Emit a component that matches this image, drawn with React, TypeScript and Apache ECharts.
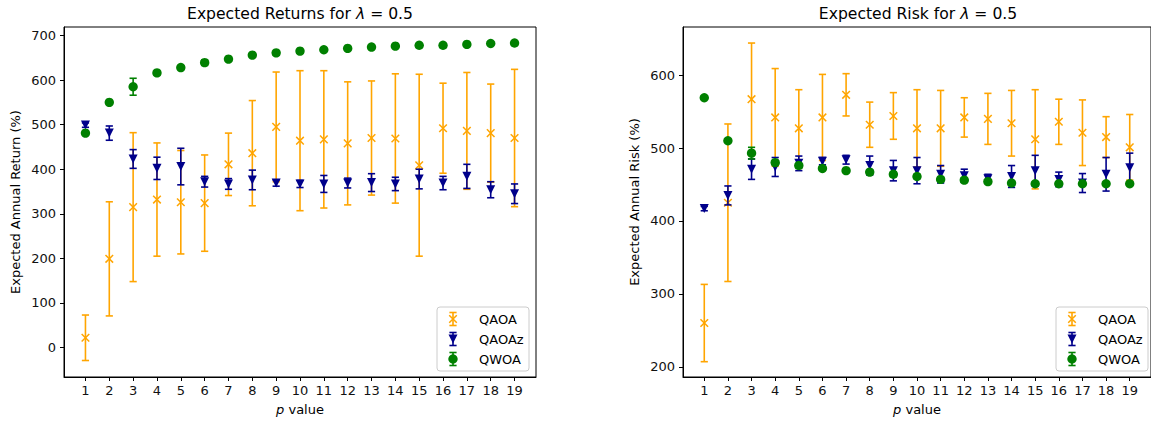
import React, { useEffect, useRef } from "react";
import * as echarts from "echarts";

const pValues = [1, 2, 3, 4, 5, 6, 7, 8, 9, 10, 11, 12, 13, 14, 15, 16, 17, 18, 19];
const seriesNames = ["QAOA", "QAOAz", "QWOA"];

// Expected returns (mean, error)
const returnQAOA = [22, 199, 315, 332, 326, 324, 411, 436, 495, 464, 467, 458, 470, 469, 409, 492, 486, 481, 470];
const returnQAOAErr = [51, 128, 167, 127, 116, 108, 70, 118, 123, 157, 154, 138, 128, 145, 204, 101, 131, 110, 154];
const returnQAOAz = [499, 481, 423, 402, 406, 372, 367, 376, 369, 367, 367, 369, 370, 367, 378, 369, 384, 354, 345];
const returnQAOAzErr = [5, 16, 21, 25, 41, 12, 12, 22, 7, 8, 19, 11, 20, 15, 22, 15, 27, 18, 22];
const returnQWOA = [481, 550, 585, 616, 628, 639, 647, 656, 661, 665, 668, 671, 674, 676, 678, 678, 680, 682, 683];
const returnQWOAErr = [2, 2, 19, 3, 3, 6, 3, 3, 2, 2, 2, 2, 2, 2, 2, 2, 2, 2, 2];

// Expected risk (mean, error)
const riskQAOA = [260, 425, 567, 542, 527, 542, 573, 532, 544, 527, 527, 542, 540, 534, 512, 536, 521, 515, 501];
const riskQAOAErr = [53, 108, 77, 67, 53, 59, 29, 31, 32, 53, 52, 27, 35, 45, 68, 31, 45, 28, 45];
const riskQAOAz = [417, 435, 471, 474, 479, 482, 484, 476, 469, 469, 464, 462, 458, 461, 469, 457, 452, 464, 473];
const riskQAOAzErr = [3, 13, 14, 13, 10, 5, 6, 13, 14, 18, 12, 9, 6, 15, 21, 10, 13, 23, 20];
const riskQWOA = [569, 510, 493, 480, 476, 472, 469, 467, 464, 461, 457, 456, 454, 452, 451, 451, 451, 451, 451];
const riskQWOAErr = [2, 2, 8, 3, 3, 2, 2, 3, 3, 3, 3, 3, 2, 2, 2, 2, 2, 2, 2];

const returnTicks = [0, 100, 200, 300, 400, 500, 600, 700];
const riskTicks = [200, 300, 400, 500, 600];

const FONT = "DejaVu Sans";
const FS = 13;
const TITLE_FS = 15.6;
const COLORS = ["#ffa500", "#00008b", "#008000"];
const KINDS = ["x", "v", "o"];

function markerShape(kind: string, cx: number, cy: number, color: string): any {
  if (kind === "x") {
    const r = 3.8;
    const st = { stroke: color, lineWidth: 1.5 };
    return {
      type: "group",
      children: [
        { type: "line", shape: { x1: cx - r, y1: cy - r, x2: cx + r, y2: cy + r }, style: st },
        { type: "line", shape: { x1: cx - r, y1: cy + r, x2: cx + r, y2: cy - r }, style: st },
      ],
    };
  }
  if (kind === "v") {
    const r = 4.5;
    return {
      type: "polygon",
      shape: { points: [[cx - r, cy - r], [cx + r, cy - r], [cx, cy + r]] },
      style: { fill: color },
    };
  }
  return { type: "circle", shape: { cx, cy, r: 4.7 }, style: { fill: color } };
}

function errorBar(cx: number, yTop: number, yBot: number, color: string): any[] {
  const cap = 3.6;
  const ls = { stroke: color, lineWidth: 1.6 };
  return [
    { type: "line", shape: { x1: cx, y1: yTop, x2: cx, y2: yBot }, style: ls },
    { type: "line", shape: { x1: cx - cap, y1: yTop, x2: cx + cap, y2: yTop }, style: ls },
    { type: "line", shape: { x1: cx - cap, y1: yBot, x2: cx + cap, y2: yBot }, style: ls },
  ];
}

function makeRender(kind: string, color: string) {
  return (params: any, api: any) => {
    const x = api.value(0);
    const y = api.value(1);
    const e = api.value(2);
    const c = api.coord([x, y]);
    const t = api.coord([x, y + e]);
    const b = api.coord([x, y - e]);
    return {
      type: "group",
      children: [...errorBar(c[0], t[1], b[1], color), markerShape(kind, c[0], c[1], color)],
    };
  };
}

function buildData(means: number[], errs: number[]) {
  return pValues.map((p, i) => [p, means[i], errs[i]]);
}

function legendGroup(left: number, top: number): any {
  const children: any[] = [
    {
      type: "rect",
      shape: { x: 0, y: 0, width: 92, height: 64, r: 3 },
      style: { fill: "rgba(255,255,255,0.8)", stroke: "#cccccc", lineWidth: 1 },
    },
  ];
  seriesNames.forEach((name, i) => {
    const cy = 12 + 20 * i;
    children.push(...errorBar(16, cy - 6.5, cy + 6.5, COLORS[i]));
    children.push(markerShape(KINDS[i], 16, cy, COLORS[i]));
    children.push({
      type: "text",
      x: 42,
      y: cy,
      style: {
        text: name,
        fill: "#000",
        fontSize: FS,
        fontFamily: FONT,
        verticalAlign: "middle",
        align: "left",
      },
    });
  });
  return { type: "group", x: left, y: top, z: 100, children };
}

function titleText(x: number, text: string): any {
  return {
    type: "text",
    x,
    y: 14,
    z: 100,
    style: {
      text,
      fill: "#000",
      fontSize: TITLE_FS,
      fontFamily: FONT,
      align: "center",
      verticalAlign: "middle",
      rich: { i: { fontStyle: "italic", fontSize: TITLE_FS, fontFamily: FONT, fill: "#000" } },
    },
  };
}

function xAxisCfg(gridIndex: number): any {
  return {
    type: "value",
    gridIndex,
    min: 0.1,
    max: 19.9,
    name: "{i|p} value",
    nameLocation: "middle",
    nameGap: 26,
    nameTextStyle: {
      fontSize: FS,
      fontFamily: FONT,
      color: "#000",
      rich: { i: { fontStyle: "italic", fontSize: FS, fontFamily: FONT, color: "#000" } },
    },
    axisLine: { show: true, onZero: false, lineStyle: { color: "#000", width: 1 } },
    axisTick: { show: true, length: 4, customValues: pValues, lineStyle: { color: "#000", width: 1 } },
    axisLabel: { customValues: pValues, fontSize: FS, fontFamily: FONT, color: "#111", margin: 7 },
    splitLine: { show: false },
  };
}

function yAxisCfg(gridIndex: number, min: number, max: number, ticks: number[], name: string): any {
  return {
    type: "value",
    gridIndex,
    min,
    max,
    name,
    nameLocation: "middle",
    nameGap: 42,
    nameTextStyle: { fontSize: FS, fontFamily: FONT, color: "#000" },
    axisLine: { show: true, onZero: false, lineStyle: { color: "#000", width: 1 } },
    axisTick: { show: true, length: 4, customValues: ticks, lineStyle: { color: "#000", width: 1 } },
    axisLabel: { customValues: ticks, fontSize: FS, fontFamily: FONT, color: "#111", margin: 8 },
    splitLine: { show: false },
  };
}

export default function App() {
  const ref = useRef<HTMLDivElement>(null);
  useEffect(() => {
    document.body.style.margin = "0";
    if (!ref.current) return;
    const chart = echarts.init(ref.current, undefined, { renderer: "svg" });
    const retSets = [
      buildData(returnQAOA, returnQAOAErr),
      buildData(returnQAOAz, returnQAOAzErr),
      buildData(returnQWOA, returnQWOAErr),
    ];
    const riskSets = [
      buildData(riskQAOA, riskQAOAErr),
      buildData(riskQAOAz, riskQAOAzErr),
      buildData(riskQWOA, riskQWOAErr),
    ];
    const series: any[] = [];
    retSets.forEach((d, i) => {
      series.push({
        type: "custom",
        name: seriesNames[i],
        xAxisIndex: 0,
        yAxisIndex: 0,
        data: d,
        encode: { x: 0, y: 1 },
        renderItem: makeRender(KINDS[i], COLORS[i]),
        z: 2 + i,
      });
    });
    riskSets.forEach((d, i) => {
      series.push({
        type: "custom",
        name: seriesNames[i],
        xAxisIndex: 1,
        yAxisIndex: 1,
        data: d,
        encode: { x: 0, y: 1 },
        renderItem: makeRender(KINDS[i], COLORS[i]),
        z: 2 + i,
      });
    });
    chart.setOption({
      animation: false,
      backgroundColor: "#ffffff",
      grid: [
        { left: 64, top: 27, width: 472, height: 350, show: true, borderColor: "#000", borderWidth: 1, backgroundColor: "transparent" },
        { left: 683, top: 27, width: 471, height: 350, show: true, borderColor: "#000", borderWidth: 1, backgroundColor: "transparent" },
      ],
      xAxis: [xAxisCfg(0), xAxisCfg(1)],
      yAxis: [
        yAxisCfg(0, -66, 719, returnTicks, "Expected Annual Return (%)"),
        yAxisCfg(1, 186, 666, riskTicks, "Expected Annual Risk (%)"),
      ],
      series,
      graphic: [
        titleText(300, "Expected Returns for {i|λ} = 0.5"),
        titleText(918, "Expected Risk for {i|λ} = 0.5"),
        legendGroup(437, 307),
        legendGroup(1056, 307),
      ],
    });
    return () => chart.dispose();
  }, []);
  return <div ref={ref} style={{ width: 1151, height: 423 }} />;
}
